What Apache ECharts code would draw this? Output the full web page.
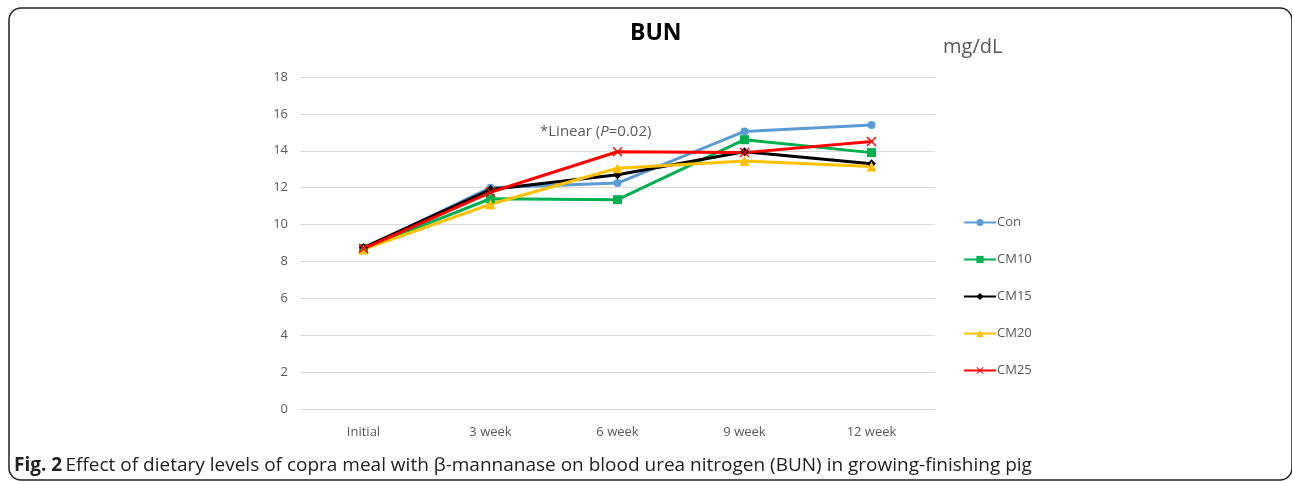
<!DOCTYPE html>
<html>
<head>
<meta charset="utf-8">
<script src="https://cdn.jsdelivr.net/npm/echarts@6/dist/echarts.min.js"></script>
<style>
  html, body { margin: 0; padding: 0; background: #fff; }
  #chart { width: 1292px; height: 481px; }
</style>
</head>
<body>
<div id="chart"></div>
<script>
// BUN values (mg/dL)
const weeks = ["Initial", "3 week", "6 week", "9 week", "12 week"];
const con = [8.7, 12.0, 12.25, 15.05, 15.4];
const cm10 = [8.7, 11.4, 11.35, 14.6, 13.9];
const cm15 = [8.75, 11.9, 12.7, 13.95, 13.3];
const cm20 = [8.65, 11.1, 13.05, 13.45, 13.15];
const cm25 = [8.7, 11.75, 13.95, 13.9, 14.5];
const yTicks = [0, 2, 4, 6, 8, 10, 12, 14, 16, 18];

const crossPath = "path://M0,1L1,0L5,4L9,0L10,1L6,5L10,9L9,10L5,6L1,10L0,9L4,5Z";

function mkSeries(name, data, color, symbol, size) {
  return {
    name: name,
    type: "line",
    data: data,
    symbol: symbol,
    symbolSize: size,
    showAllSymbol: true,
    lineStyle: { color: color, width: 3 },
    itemStyle: { color: color },
    emphasis: { disabled: true },
    animation: false
  };
}

const chart = echarts.init(document.getElementById("chart"));
chart.setOption({
  backgroundColor: "#fff",
  textStyle: { fontFamily: "Open Sans" },
  grid: { left: 300, right: 357, top: 77, bottom: 72 },
  legend: {
    orient: "vertical",
    left: 958,
    top: 211,
    itemGap: 24,
    itemWidth: 32,
    itemHeight: 9,
    textStyle: { color: "#595959", fontSize: 13, fontFamily: "Open Sans", padding: [0, 0, 0, -4] },
    data: ["Con", "CM10", "CM15", "CM20", "CM25"]
  },
  xAxis: {
    type: "category",
    data: weeks,
    boundaryGap: true,
    axisLine: { show: false },
    axisTick: { show: false },
    axisLabel: { color: "#595959", fontSize: 13, margin: 17 }
  },
  yAxis: {
    type: "value",
    min: yTicks[0],
    max: yTicks[yTicks.length - 1],
    interval: 2,
    axisLine: { show: false },
    axisTick: { show: false },
    axisLabel: { color: "#595959", fontSize: 13, margin: 12 },
    splitLine: { lineStyle: { color: "#d9d9d9", width: 1 } }
  },
  graphic: [
    {
      type: "rect",
      shape: { x: 9, y: 8, width: 1283, height: 472, r: 12 },
      style: { fill: "none", stroke: "#222", lineWidth: 1.5 },
      silent: true
    },
    {
      type: "text",
      left: 630,
      top: 22,
      style: { text: "BUN", font: "bold 23px 'Open Sans'", fill: "#000" }
    },
    {
      type: "text",
      left: 943,
      top: 37,
      style: { text: "mg/dL", font: "20px 'Open Sans'", fill: "#595959" }
    },
    {
      type: "text",
      left: 540,
      top: 124,
      style: {
        text: "{a|*Linear (}{p|P}{a|=0.02)}",
        rich: {
          a: { fontSize: 15, fontFamily: "Open Sans", fill: "#595959" },
          p: { fontSize: 15, fontFamily: "Open Sans", fontStyle: "italic", fill: "#595959" }
        }
      }
    },
    {
      type: "text",
      left: 14,
      top: 456,
      style: {
        text: "{b|Fig. 2} {r|Effect of dietary levels of copra meal with β-mannanase on blood urea nitrogen (BUN) in growing-finishing pig}",
        rich: {
          b: { fontSize: 19, fontWeight: "bold", fontFamily: "Open Sans", fill: "#222" },
          r: { fontSize: 19, fontFamily: "Open Sans", fill: "#222" }
        }
      }
    }
  ],
  series: [
    mkSeries("Con", con, "#5B9BD5", "circle", 8),
    mkSeries("CM10", cm10, "#00B050", "rect", 9),
    mkSeries("CM15", cm15, "#000000", "diamond", 9),
    mkSeries("CM20", cm20, "#FFC000", "triangle", 10),
    mkSeries("CM25", cm25, "#FF0000", crossPath, 10)
  ]
});
</script>
</body>
</html>
